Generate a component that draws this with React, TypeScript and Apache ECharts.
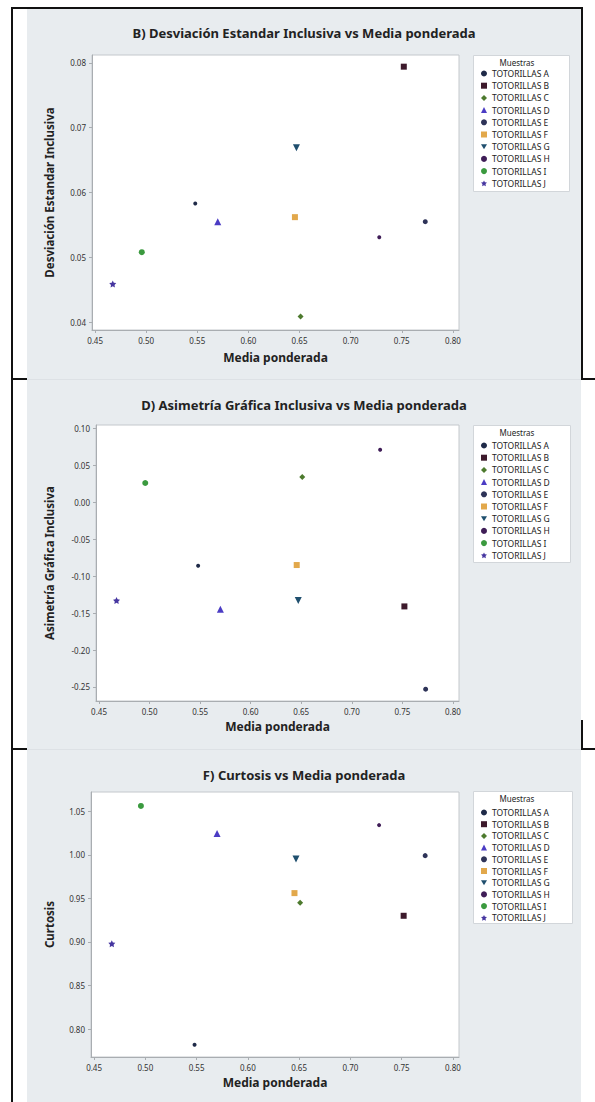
import React, { useEffect, useRef } from "react";
import * as echarts from "echarts";

const muestras = [
  "TOTORILLAS A", "TOTORILLAS B", "TOTORILLAS C", "TOTORILLAS D", "TOTORILLAS E",
  "TOTORILLAS F", "TOTORILLAS G", "TOTORILLAS H", "TOTORILLAS I", "TOTORILLAS J",
];
const mediaPonderada = [0.548, 0.752, 0.651, 0.570, 0.773, 0.6455, 0.647, 0.728, 0.4957, 0.4673];
const desviacion = [0.0583, 0.0794, 0.0409, 0.0555, 0.0555, 0.0562, 0.0669, 0.0531, 0.0508, 0.0459];
const asimetria = [-0.086, -0.141, 0.034, -0.145, -0.253, -0.085, -0.133, 0.071, 0.026, -0.133];
const curtosis = [0.782, 0.930, 0.945, 1.0245, 0.999, 0.956, 0.995, 1.034, 1.056, 0.898];

const xTicks = [0.45, 0.5, 0.55, 0.6, 0.65, 0.7, 0.75, 0.8];
const yTicksB = [0.04, 0.05, 0.06, 0.07, 0.08];
const yTicksD = [-0.25, -0.2, -0.15, -0.1, -0.05, 0, 0.05, 0.1];
const yTicksF = [0.8, 0.85, 0.9, 0.95, 1.0, 1.05];

const titles = [
  "B) Desviación Estandar Inclusiva vs Media ponderada",
  "D) Asimetría Gráfica Inclusiva vs Media ponderada",
  "F) Curtosis vs Media ponderada",
];
const yNames = ["Desviación Estandar Inclusiva", "Asimetría Gráfica Inclusiva", "Curtosis"];
const xName = "Media ponderada";

const colors = ["#1f2a48", "#3d1a2c", "#4d7a2e", "#4b3cc4", "#2e3358", "#e2a84b", "#1f4f6e", "#3f1d57", "#3b9a3f", "#4636a0"];
const STAR = "path://M0,-10L2.9,-4L9.5,-3.1L4.8,1.5L5.9,8.1L0,5L-5.9,8.1L-4.8,1.5L-9.5,-3.1L-2.9,-4Z";
const DOWN = "path://M0,9L-10,-8L10,-8Z";
const symbols = ["circle", "rect", "diamond", "triangle", "circle", "rect", DOWN, "circle", "circle", STAR];
const symbolSizes = [4, 6, 6, 7, 5, 6, 7, 4, 6, 7];

const FONT = "Noto Sans";

export default function App() {
  const ref = useRef<HTMLDivElement>(null);
  useEffect(() => {
    if (!ref.current) return;
    const chart = echarts.init(ref.current, null, { renderer: "svg" });
    const panels = [
      { left: 92, top: 55, bottom: 330, ymin: 0.0388, ymax: 0.0812, ticks: yTicksB, y: desviacion, titleY: 33, xGap: 21, yGap: 37, leg: { x: 473, y: 55, w: 96, h: 136 }, legTop: 69, legGap: 3.2 },
      { left: 96, top: 425, bottom: 701, ymin: -0.269, ymax: 0.1045, ticks: yTicksD, y: asimetria, titleY: 405, xGap: 19, yGap: 41, leg: { x: 473, y: 425, w: 97, h: 137 }, legTop: 441, legGap: 3.2 },
      { left: 91, top: 792, bottom: 1057, ymin: 0.768, ymax: 1.072, ticks: yTicksF, y: curtosis, titleY: 775, xGap: 19, yGap: 36, leg: { x: 473, y: 791, w: 99, h: 132 }, legTop: 808, legGap: 2.7 },
    ];
    const right = 459;
    const grid: any[] = [];
    const xAxis: any[] = [];
    const yAxis: any[] = [];
    const series: any[] = [];
    const legend: any[] = [];
    const graphic: any[] = [];
    panels.forEach((p, pi) => {
      grid.push({
        left: p.left, top: p.top, width: right - p.left, height: p.bottom - p.top,
        show: true, backgroundColor: "#ffffff", borderColor: "#c4c8cc", borderWidth: 1,
      });
      xAxis.push({
        type: "value", gridIndex: pi, min: 0.447, max: 0.806,
        name: xName, nameLocation: "middle", nameGap: p.xGap,
        nameTextStyle: { fontFamily: FONT, fontSize: 12, fontWeight: "bold", color: "#222" },
        axisLine: { show: true, onZero: false, lineStyle: { color: "#a9adb1" } },
        axisTick: { show: true, length: 3, lineStyle: { color: "#a9adb1" }, customValues: xTicks },
        axisLabel: { fontFamily: FONT, fontSize: 8, color: "#333", margin: 6, customValues: xTicks, formatter: (v: number) => v.toFixed(2) },
        splitLine: { show: false },
      });
      yAxis.push({
        type: "value", gridIndex: pi, min: p.ymin, max: p.ymax,
        name: yNames[pi], nameLocation: "middle", nameGap: p.yGap,
        nameTextStyle: { fontFamily: FONT, fontSize: 11.5, fontWeight: "bold", color: "#222" },
        axisLine: { show: true, onZero: false, lineStyle: { color: "#a9adb1" } },
        axisTick: { show: true, length: 3, lineStyle: { color: "#a9adb1" }, customValues: p.ticks },
        axisLabel: { fontFamily: FONT, fontSize: 8, color: "#333", margin: 6, customValues: p.ticks, formatter: (v: number) => v.toFixed(2) },
        splitLine: { show: false },
      });
      muestras.forEach((name, i) => {
        series.push({
          type: "scatter", name, xAxisIndex: pi, yAxisIndex: pi,
          symbol: symbols[i], symbolSize: symbolSizes[i],
          itemStyle: { color: colors[i], opacity: 1 },
          data: [[mediaPonderada[i], p.y[i]]],
        });
      });
      legend.push({
        data: muestras, orient: "vertical", left: 481, top: p.legTop,
        itemWidth: 6, itemHeight: 6, itemGap: p.legGap, padding: 0, selectedMode: false,
        textStyle: { fontFamily: FONT, fontSize: 8.5, color: "#222", lineHeight: 8.5 },
        z: 10,
      });
      graphic.push({
        type: "rect", z: 1, shape: { x: p.leg.x + 0.5, y: p.leg.y + 0.5, width: p.leg.w, height: p.leg.h },
        style: { fill: "#ffffff", stroke: "#d2d6da", lineWidth: 1 },
      });
      graphic.push({
        type: "text", z: 2, x: 517, y: p.leg.y + 7,
        style: { text: "Muestras", fontFamily: FONT, fontSize: 8, fill: "#222", textAlign: "center", textVerticalAlign: "middle" },
      });
      graphic.push({
        type: "text", z: 2, x: 304, y: p.titleY,
        style: { text: titles[pi], fontFamily: FONT, fontSize: 13, fontWeight: "bold", fill: "#222", textAlign: "center", textVerticalAlign: "middle" },
      });
    });
    chart.setOption({ animation: false, grid, xAxis, yAxis, series, legend, graphic });
    return () => chart.dispose();
  }, []);

  const line = (l: number, t: number, w: number, h: number, c = "#111") => (
    <div style={{ position: "absolute", left: l, top: t, width: w, height: h, background: c }} />
  );

  return (
    <div style={{ position: "absolute", left: 0, top: 0, width: 595, height: 1102, background: "#fff", overflow: "hidden" }}>
      <div style={{ position: "absolute", left: 27, top: 9, width: 554, height: 1093, background: "#e8ecef" }} />
      {line(27, 379, 554, 1, "#dde1e5")}
      {line(27, 749, 554, 1, "#dde1e5")}
      {line(11, 7, 572, 2)}
      {line(11, 7, 2, 1095)}
      {line(581, 7, 2, 373)}
      {line(11, 378, 16, 2)}
      {line(581, 378, 14, 2)}
      {line(581, 720, 2, 30)}
      {line(11, 748, 16, 2)}
      {line(581, 748, 14, 2)}
      <div ref={ref} style={{ position: "absolute", left: 0, top: 0, width: 595, height: 1102 }} />
    </div>
  );
}
